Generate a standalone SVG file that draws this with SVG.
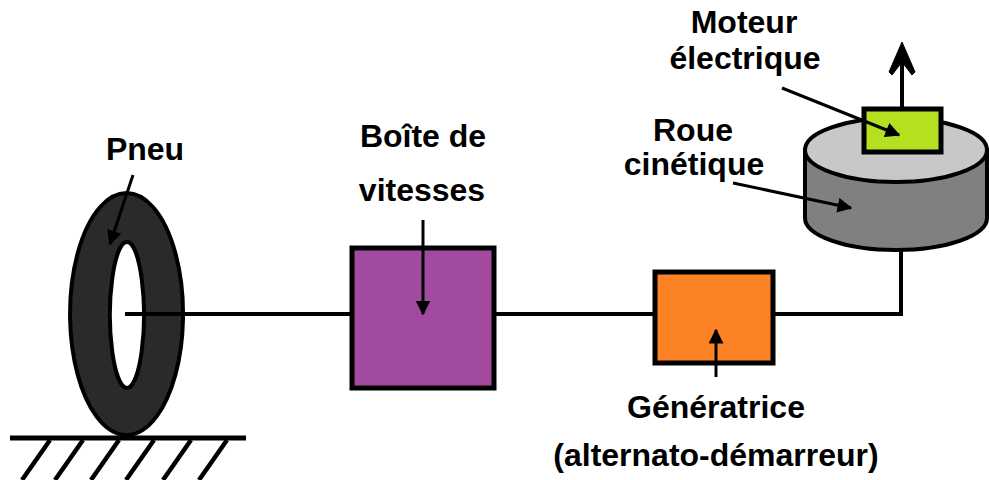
<svg xmlns="http://www.w3.org/2000/svg" width="989" height="480" viewBox="0 0 989 480">
  <style>
    .lbl { font-family: "Liberation Sans", Arial, sans-serif; font-weight: bold; font-size: 32px; fill: #000; text-anchor: middle; }
    .shaft { stroke: #000; stroke-width: 4; fill: none; }
    .box { stroke: #000; stroke-width: 5; }
    .ptr { stroke: #000; stroke-width: 3; fill: none; marker-end: url(#head); }
  </style>
  <defs>
    <marker id="head" viewBox="0 0 10 10" refX="9" refY="5" markerWidth="5" markerHeight="5" markerUnits="strokeWidth" orient="auto">
      <path d="M0,0 L10,5 L0,10 Z" fill="#000"/>
    </marker>
  </defs>
  <rect width="989" height="480" fill="#fff"/>

  <!-- shafts and output arrow -->
  <g id="connectors">
    <line class="shaft" x1="125" y1="314" x2="352" y2="314"/>
    <line class="shaft" x1="494" y1="314" x2="655" y2="314"/>
    <polyline class="shaft" points="773,314 901,314 901,250"/>
    <line class="shaft" x1="902" y1="108" x2="902" y2="50"/>
    <path d="M902,42 L889,72 L892,75 L902,62 L912,75 L915,72 Z" fill="#000" stroke="#000" stroke-width="1" stroke-linejoin="round"/>
  </g>

  <g id="ground">
    <line x1="10" y1="438" x2="246" y2="438" stroke="#000" stroke-width="5"/>
    <g stroke="#000" stroke-width="4.5">
      <line x1="50" y1="440" x2="22" y2="480"/>
      <line x1="83" y1="440" x2="55" y2="480"/>
      <line x1="119" y1="440" x2="91" y2="480"/>
      <line x1="154" y1="440" x2="126" y2="480"/>
      <line x1="191" y1="440" x2="163" y2="480"/>
      <line x1="227" y1="440" x2="199" y2="480"/>
    </g>
  </g>

  <g id="pneu">
    <path d="M126.5,193 A56.5,121 0 1,0 126.6,193 Z M127,242 A17,73 0 1,1 126.9,242 Z" fill="#2a2a2a" fill-rule="evenodd" stroke="#000" stroke-width="4"/>
    <line class="shaft" x1="125" y1="314" x2="183" y2="314"/>
  </g>

  <g id="boite">
    <rect class="box" x="352" y="248" width="142" height="140" fill="#a24a9f"/>
  </g>

  <g id="generatrice">
    <rect class="box" x="655" y="272" width="118" height="91" fill="#fd8125"/>
  </g>

  <g id="roue">
    <path d="M805,150 L805,218 A91,32 0 0,0 987,218 L987,150 Z" fill="#808080" stroke="#000" stroke-width="4"/>
    <ellipse cx="896" cy="150" rx="91" ry="32" fill="#c8c8c8" stroke="#000" stroke-width="4"/>
  </g>

  <g id="moteur">
    <rect class="box" x="864" y="109" width="77" height="43" fill="#b4e01f"/>
  </g>

  <!-- labels and pointers -->
  <g id="labels">
    <text class="lbl" x="145" y="160">Pneu</text>
    <text class="lbl" x="423" y="147">Boîte de</text>
    <text class="lbl" x="422" y="201">vitesses</text>
    <text class="lbl" x="693" y="141">Roue</text>
    <text class="lbl" x="694" y="175">cinétique</text>
    <text class="lbl" x="744" y="33">Moteur</text>
    <text class="lbl" x="745" y="69">électrique</text>
    <text class="lbl" x="716" y="418">Génératrice</text>
    <text class="lbl" x="716" y="466">(alternato-démarreur)</text>
  </g>

  <g id="pointers">
    <line class="ptr" x1="133" y1="175" x2="110" y2="244"/>
    <line class="ptr" x1="423" y1="220" x2="423" y2="314"/>
    <line class="ptr" x1="716" y1="377" x2="716" y2="330"/>
    <line class="ptr" x1="782" y1="88" x2="899" y2="135"/>
    <line class="ptr" x1="733" y1="183" x2="851" y2="208"/>
  </g>
</svg>
